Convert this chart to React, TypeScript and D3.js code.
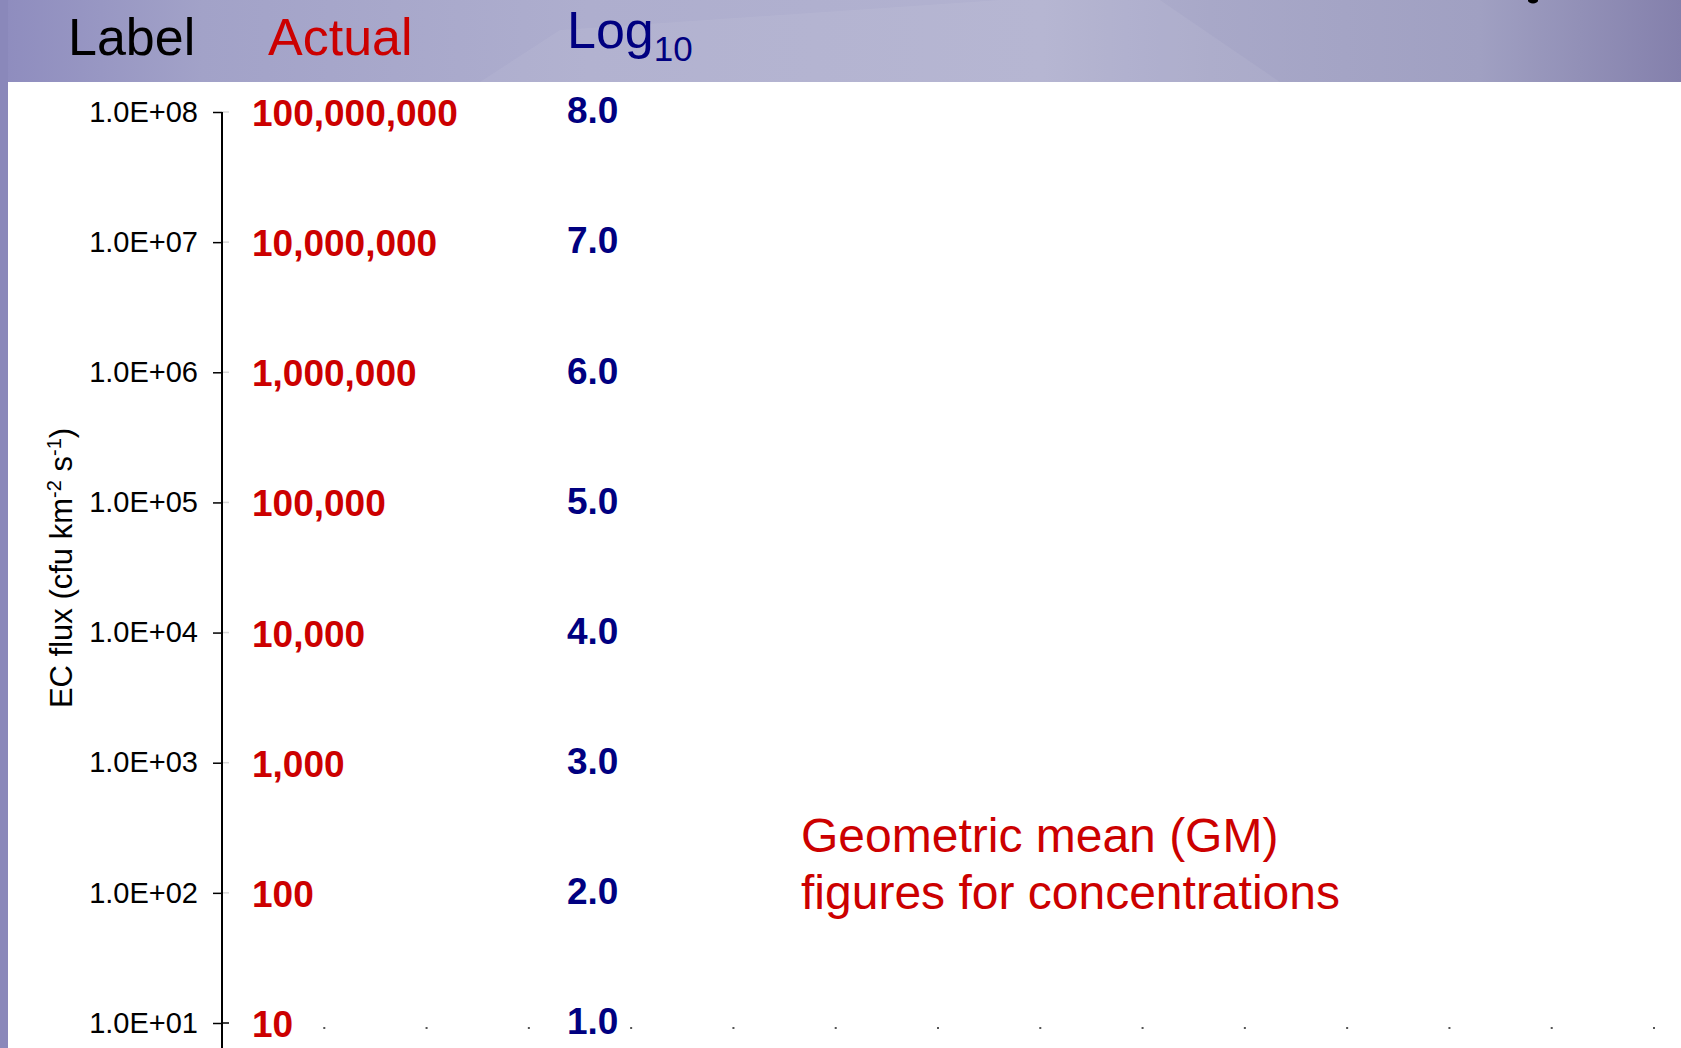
import React, { useEffect, useRef } from 'react';
import * as d3 from 'd3';

// values on the log axis (cfu km-2 s-1)
const fluxValues = [1e1, 1e2, 1e3, 1e4, 1e5, 1e6, 1e7, 1e8];
const sciLabels = ['1.0E+01', '1.0E+02', '1.0E+03', '1.0E+04', '1.0E+05', '1.0E+06', '1.0E+07', '1.0E+08'];
const actualLabels = ['10', '100', '1,000', '10,000', '100,000', '1,000,000', '10,000,000', '100,000,000'];
const logLabels = ['1.0', '2.0', '3.0', '4.0', '5.0', '6.0', '7.0', '8.0'];
// hidden category axis, only its tick marks show
const xTicks = [1, 2, 3, 4, 5, 6, 7, 8, 9, 10, 11, 12, 13, 14];

const RED = '#CC0000';
const NAVY = '#000080';
const FONT = 'Liberation Sans, Arial, sans-serif';

const App: React.FC = () => {
  const svgRef = useRef<SVGSVGElement | null>(null);

  useEffect(() => {
    if (!svgRef.current) return;
    const svg = d3.select(svgRef.current);
    const width = 1681;
    const height = 1048;
    svg.selectAll('*').remove();

    // header band gradient
    const defs = svg.append('defs');
    const grad = defs.append('linearGradient').attr('id', 'hdr').attr('x1', 0).attr('x2', 1).attr('y1', 0).attr('y2', 0);
    [
      [0, '#8E8CBE'],
      [0.12, '#A2A2C8'],
      [0.35, '#AEAECE'],
      [0.62, '#B2B2D0'],
      [0.72, '#A8A8C8'],
      [0.88, '#A0A0C2'],
      [1, '#8480AC'],
    ].forEach(([o, c]) => grad.append('stop').attr('offset', o as number).attr('stop-color', c as string));

    svg.append('rect').attr('width', width).attr('height', height).attr('fill', '#fff');
    svg.append('rect').attr('width', width).attr('height', 82).attr('fill', 'url(#hdr)');
    // faint light shape in the header
    svg.append('path')
      .attr('d', 'M480,82 L560,30 L1000,0 L1160,0 L1280,82 Z')
      .attr('fill', '#ffffff').attr('opacity', 0.06);
    svg.append('rect').attr('x', 0).attr('y', 0).attr('width', 8).attr('height', height).attr('fill', '#8A88BA');

    // header titles
    svg.append('text').attr('x', 68).attr('y', 55).attr('font-family', FONT).attr('font-size', 52)
      .attr('fill', '#000').text('Label');
    svg.append('text').attr('x', 268).attr('y', 55).attr('font-family', FONT).attr('font-size', 52)
      .attr('fill', RED).text('Actual');
    const logT = svg.append('text').attr('x', 567).attr('y', 48).attr('font-family', FONT).attr('font-size', 52)
      .attr('fill', NAVY);
    logT.append('tspan').text('Log');
    logT.append('tspan').attr('font-size', 35).attr('dy', 13).text('10');
    // fragment of a cut-off glyph at the top right
    svg.append('ellipse').attr('cx', 1533).attr('cy', 0.5).attr('rx', 5).attr('ry', 3).attr('fill', '#000');

    const yScale = d3.scaleLog().domain([1e1, 1e8]).range([1023, 112]);
    const xScale = d3.scaleLinear().domain([0, 14]).range([222, 1654]);
    const axisX = xScale(0);

    // y axis
    const yAxis = d3.axisLeft(yScale)
      .tickValues(fluxValues)
      .tickSize(9)
      .tickSizeOuter(0)
      .tickPadding(15)
      .tickFormat((d, i) => sciLabels[i]);
    const gy = svg.append('g').attr('transform', `translate(${axisX},0)`).call(yAxis);
    gy.select('.domain').remove();
    gy.selectAll('.tick line').attr('stroke', '#000').attr('stroke-width', 1.5);
    gy.selectAll('.tick text').attr('font-family', FONT).attr('font-size', 29).attr('fill', '#000');

    // light stubs on the right side of ticks
    svg.append('g').selectAll('line').data(fluxValues).enter().append('line')
      .attr('x1', axisX).attr('x2', axisX + 7)
      .attr('y1', d => yScale(d)).attr('y2', d => yScale(d))
      .attr('stroke', (d, i) => (i === 0 ? '#000' : '#d8d8d8')).attr('stroke-width', 1.5);

    svg.append('line').attr('x1', axisX).attr('x2', axisX)
      .attr('y1', yScale(1e8)).attr('y2', height)
      .attr('stroke', '#000').attr('stroke-width', 2);

    // x tick dots
    svg.append('g').selectAll('rect').data(xTicks).enter().append('rect')
      .attr('x', d => xScale(d) - 1).attr('y', 1027).attr('width', 2).attr('height', 2)
      .attr('fill', '#555');

    // actual values
    svg.append('g').selectAll('text').data(fluxValues).enter().append('text')
      .attr('x', 252).attr('y', d => yScale(d)).attr('dy', '0.38em')
      .attr('font-family', FONT).attr('font-size', 37).attr('font-weight', 'bold')
      .attr('fill', RED).text((d, i) => actualLabels[i]);

    // log10 values
    svg.append('g').selectAll('text').data(fluxValues).enter().append('text')
      .attr('x', 567).attr('y', d => yScale(d) - 2).attr('dy', '0.36em')
      .attr('font-family', FONT).attr('font-size', 37).attr('font-weight', 'bold')
      .attr('fill', NAVY).text((d, i) => logLabels[i]);

    // y axis title
    const title = svg.append('text')
      .attr('transform', 'translate(72,568) rotate(-90)')
      .attr('text-anchor', 'middle').attr('font-family', FONT).attr('font-size', 31).attr('fill', '#000');
    title.append('tspan').text('EC flux (cfu km');
    title.append('tspan').attr('font-size', 20).attr('dy', -11).text('-2');
    title.append('tspan').attr('dy', 11).text(' s');
    title.append('tspan').attr('font-size', 20).attr('dy', -11).text('-1');
    title.append('tspan').attr('dy', 11).text(')');

    // annotation
    const note = svg.append('text').attr('font-family', FONT).attr('font-size', 48).attr('fill', RED);
    note.append('tspan').attr('x', 801).attr('y', 852).text('Geometric mean (GM)');
    note.append('tspan').attr('x', 801).attr('y', 909).text('figures for concentrations');
  }, []);

  return (
    <svg ref={svgRef} width={1681} height={1048} style={{ position: 'absolute', left: 0, top: 0 }}></svg>
  );
};

export default App;
